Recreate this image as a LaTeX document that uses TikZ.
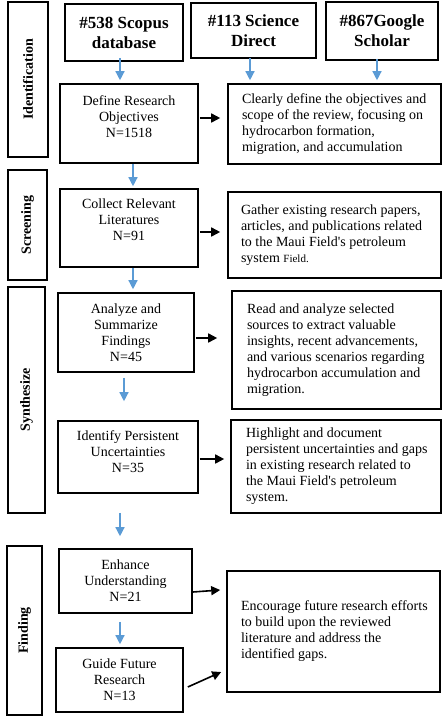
\documentclass[tikz,border=0pt]{standalone}
\usepackage{fontspec}
\setmainfont{Liberation Serif}[Ligatures=TeXOff]
\usetikzlibrary{arrows.meta}
\definecolor{arrblue}{RGB}{91,155,213}
\newcommand{\desctext}[2]{\makebox[#1][l]{\begin{tabular}{@{}l@{}}#2\end{tabular}}}
\begin{document}
\begin{tikzpicture}[x=1pt,y=-1pt,
  box/.style={draw=black,line width=1.6pt,inner sep=0pt,align=center,font=\fontsize{14}{16}\selectfont},
  srcbox/.style={box,font=\bfseries\fontsize{17}{20}\selectfont},
  sidebox/.style={draw=black,line width=1.6pt,inner sep=0pt},
  sidetext/.style={rotate=90,font=\bfseries\fontsize{14}{16}\selectfont,inner sep=0pt},
  descbox/.style={draw=black,line width=1.6pt,inner sep=0pt,font=\fontsize{14}{16}\selectfont},
  bluearr/.style={draw=arrblue,line width=1.3pt,-{Triangle[length=9pt,width=9pt]}},
  blkarr/.style={draw=black,line width=1.6pt,-{Triangle[length=9pt,width=9pt]}}]
\useasboundingbox (0,0) rectangle (443,716);
% side boxes
\node[sidebox,minimum width=40pt,minimum height=155pt] (idside) at (28,79.5) {};
\node[sidetext] (idtext) at (idside.center) {Identification};
\node[sidebox,minimum width=39pt,minimum height=110pt] (scrside) at (27.5,225) {};
\node[sidetext] (scrtext) at (scrside.center) {Screening};
\node[sidebox,minimum width=37pt,minimum height=226pt] (synside) at (26.5,400) {};
\node[sidetext] (syntext) at (synside.center) {Synthesize};
\node[sidebox,minimum width=35pt,minimum height=169pt] (finside) at (24.5,630.5) {};
\node[sidetext] (fintext) at (finside.center) {Finding};
% source boxes
\node[srcbox,minimum width=118pt,minimum height=57pt] (scopus) at (124,32.5) {\#538 Scopus\\database};
\node[srcbox,minimum width=125pt,minimum height=55pt] (sd) at (253.5,30.5) {\#113 Science\\Direct};
\node[srcbox,minimum width=112pt,minimum height=58pt] (gs) at (382,31) {\#867Google\\Scholar};
% step boxes
\node[box,minimum width=138pt,minimum height=79pt,text depth=14pt] (define) at (129,123.5) {Define Research\\Objectives\\N=1518};
\node[box,minimum width=138pt,minimum height=78pt,text depth=17pt] (collect) at (129,228) {Collect Relevant\\Literatures\\N=91};
\node[box,minimum width=136pt,minimum height=79pt] (analyze) at (126,332.5) {Analyze and\\Summarize\\Findings\\N=45};
\node[box,minimum width=140pt,minimum height=72pt,text depth=11pt] (identify) at (128,457) {Identify Persistent\\Uncertainties\\N=35};
\node[box,minimum width=133pt,minimum height=64pt] (enhance) at (125.5,581) {Enhance\\Understanding\\N=21};
\node[box,minimum width=127pt,minimum height=64pt] (guide) at (119.5,680) {Guide Future\\Research\\N=13};
% description boxes
\node[descbox,minimum width=213pt,minimum height=80pt] (clearly) at (334.5,124) {\desctext{185pt}{Clearly define the objectives and\\scope of the review, focusing on\\hydrocarbon formation,\\migration, and accumulation}};
\node[descbox,minimum width=213pt,minimum height=86pt] (gather) at (334.5,235) {\desctext{187pt}{Gather existing research papers,\\articles, and publications related\\to the Maui Field's petroleum\\system {\fontsize{11}{16}\selectfont Field.}}};
\node[descbox,minimum width=209pt,minimum height=118pt] (read) at (336.5,350) {\desctext{179pt}{Read and analyze selected\\sources to extract valuable\\insights, recent advancements,\\and various scenarios regarding\\hydrocarbon accumulation and\\migration.}};
\node[descbox,minimum width=210pt,minimum height=93pt] (highlight) at (336,466.5) {\desctext{180pt}{Highlight and document\\persistent uncertainties and gaps\\in existing research related to\\the Maui Field's petroleum\\system.}};
\node[descbox,minimum width=213pt,minimum height=121pt] (encourage) at (333.5,631.5) {\desctext{185pt}{Encourage future research efforts\\to build upon the reviewed\\literature and address the\\identified gaps.}};
% blue arrows
\draw[bluearr] ([xshift=-4pt,yshift=4pt]scopus.south) -- ([xshift=-9pt,yshift=3pt]define.north);
\draw[bluearr] ([xshift=-3.5pt,yshift=1pt]sd.south) -- ([xshift=-84.5pt,yshift=3pt]clearly.north);
\draw[bluearr] ([xshift=-5pt,yshift=2pt]gs.south) -- ([xshift=42.5pt,yshift=3pt]clearly.north);
\draw[bluearr] ([xshift=4pt]define.south) -- ([xshift=4pt,yshift=2pt]collect.north);
\draw[bluearr] ([xshift=4pt]collect.south) -- ([xshift=7pt,yshift=3pt]analyze.north);
\draw[bluearr] ([xshift=-2pt,yshift=-5pt]analyze.south) -- ([xshift=-4pt,yshift=19pt]identify.north);
\draw[bluearr] ([xshift=-8pt,yshift=-19pt]identify.south) -- ([xshift=-5.5pt,yshift=12pt]enhance.north);
\draw[bluearr] ([xshift=-5.5pt,yshift=-8pt]enhance.south) -- ([xshift=0.5pt,yshift=3pt]guide.north);
% black arrows
\draw[blkarr] ([xshift=1pt,yshift=5.5pt]define.east) -- ([xshift=-7pt,yshift=6pt]clearly.west);
\draw[blkarr] ([xshift=1pt,yshift=-4pt]collect.east) -- ([xshift=-7pt,yshift=3pt]gather.west);
\draw[blkarr] ([xshift=1pt,yshift=-5.5pt]analyze.east) -- ([xshift=-14pt,yshift=12pt]read.west);
\draw[blkarr] ([xshift=1pt,yshift=-2pt]identify.east) -- ([xshift=-6pt,yshift=7.5pt]highlight.west);
\draw[blkarr] ([yshift=-11pt]enhance.east) -- ([xshift=-6pt,yshift=41.5pt]encourage.west);
\draw[blkarr] ([xshift=4pt,yshift=-7pt]guide.east) -- ([xshift=-5pt,yshift=-40.5pt]encourage.west);
\end{tikzpicture}
\end{document}
